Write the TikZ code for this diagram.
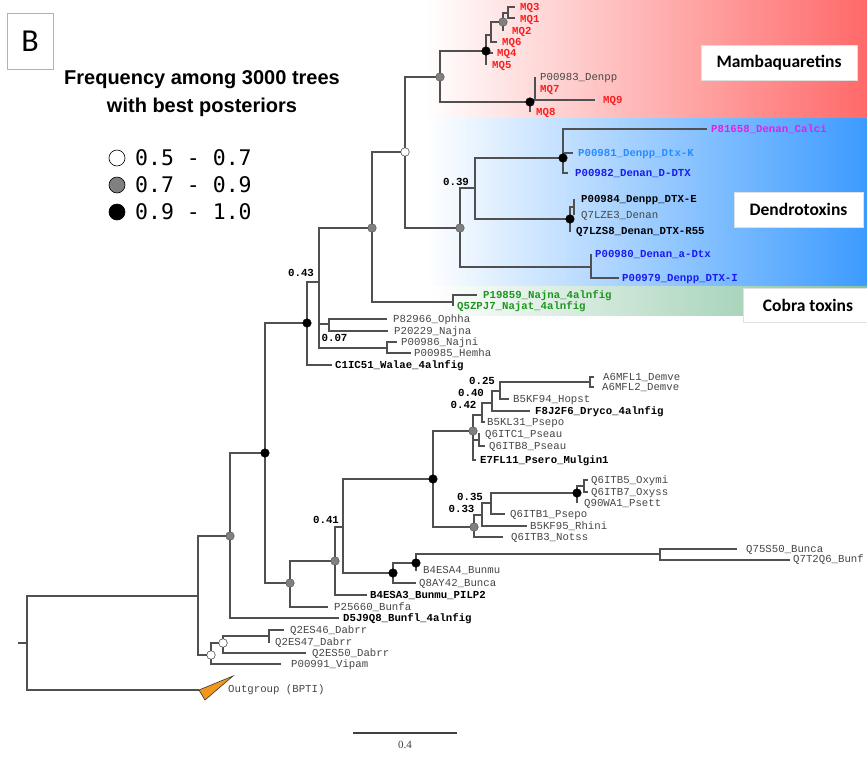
\documentclass[tikz,border=0pt]{standalone}
\usepackage{fontspec}
\setmainfont{Liberation Sans}
\newfontfamily\lmono{Liberation Mono}
\newfontfamily\dmono{DejaVu Sans Mono}
\newfontfamily\carl{Carlito}
\newfontfamily\lserif{Liberation Serif}
\definecolor{linec}{RGB}{80,80,80}
\definecolor{leafg}{RGB}{70,70,70}
\definecolor{mqred}{RGB}{250,30,30}
\definecolor{calm}{RGB}{230,30,230}
\definecolor{lblue}{RGB}{40,140,255}
\definecolor{dblue}{RGB}{25,25,240}
\definecolor{cgreen}{RGB}{30,150,30}
\definecolor{bgred}{RGB}{255,105,105}
\definecolor{bgblue}{RGB}{60,155,255}
\definecolor{bggreen}{RGB}{135,195,160}
\definecolor{ogorange}{RGB}{242,150,30}
\definecolor{dotgray}{RGB}{128,128,128}
\begin{document}
\begin{tikzpicture}[x=1pt,y=-1pt,
  br/.style={draw=linec,line width=1.3pt,line join=miter},
  lab/.style={anchor=west,inner sep=0pt,text height=7pt,text depth=0pt,font=\lmono\fontsize{10.7}{12}\selectfont,text=leafg},
  labb/.style={lab,font=\lmono\bfseries\fontsize{10.7}{12}\selectfont,text=black},
  supp/.style={inner sep=0pt,text height=7pt,text depth=0pt,font=\lmono\bfseries\fontsize{10.8}{12}\selectfont,text=black},
  bdot/.style={circle,fill=black,draw=black,line width=0.4pt,minimum size=8.6pt,inner sep=0pt},
  gdot/.style={circle,fill=dotgray,draw=black!70,line width=0.4pt,minimum size=8.6pt,inner sep=0pt},
  wdot/.style={circle,fill=white,draw=black!80,line width=0.5pt,minimum size=8.6pt,inner sep=0pt},
  grpbox/.style={fill=white,draw=black!12,line width=0.5pt,inner sep=0pt,font=\carl\bfseries\fontsize{17.5}{20}\selectfont},
  legdot/.style={circle,draw=black,line width=0.6pt,minimum size=16pt,inner sep=0pt}]
\useasboundingbox (0,0) rectangle (867,761);
\fill[white] (0,0) rectangle (867,761);
% coloured backgrounds
\shade[left color=white,right color=bgred] (425,0) rectangle (867,118);
\shade[left color=white,right color=bgblue] (425,118) rectangle (867,286);
\shade[left color=white,right color=bggreen] (430,286) rectangle (867,315);
\node[grpbox,minimum width=156pt,minimum height=35pt] (gm) at (779,62.5) {Mambaquaretins};
\node[grpbox,minimum width=129pt,minimum height=35pt] (gd) at (798.5,209.5) {Dendrotoxins};
\node[grpbox,minimum width=130pt,minimum height=34pt] (gc) at (808,305) {Cobra toxins};
% panel letter
\node[draw=black!30,line width=0.6pt,minimum width=46pt,minimum height=56pt,inner sep=0pt,font=\carl\fontsize{32}{34}\selectfont] (pb) at (30,41) {B};
% title and legend
\node[font=\bfseries\fontsize{20}{24}\selectfont] (t1) at (202,80) {Frequency among 3000 trees};
\node[font=\bfseries\fontsize{20}{24}\selectfont] (t2) at (202,107) {with best posteriors};
\node[legdot,fill=white] (lg1) at (117,158) {};
\node[legdot,fill=dotgray] (lg2) at (117,185) {};
\node[legdot,fill=black] (lg3) at (117,212) {};
\node[anchor=west,inner sep=0pt,font=\dmono\fontsize{21.5}{24}\selectfont] (lt1) at (135,158) {0.5 - 0.7};
\node[anchor=west,inner sep=0pt,font=\dmono\fontsize{21.5}{24}\selectfont] (lt2) at (135,185) {0.7 - 0.9};
\node[anchor=west,inner sep=0pt,font=\dmono\fontsize{21.5}{24}\selectfont] (lt3) at (135,212) {0.9 - 1.0};
% internal nodes
\coordinate (Rt) at (18,643);
\coordinate (R) at (27,643);
\coordinate (OG) at (199,690);
\coordinate (A) at (198,596);
\coordinate (D) at (211,655);
\coordinate (D2) at (223,643);
\coordinate (D3) at (269,636);
\coordinate (B) at (230,536);
\coordinate (C) at (265,453);
\coordinate (F) at (290,583);
\coordinate (G) at (335,561);
\coordinate (H) at (343,527);
\coordinate (J) at (393,573);
\coordinate (K) at (416,563);
\coordinate (L) at (660,554);
\coordinate (I) at (433,479);
\coordinate (M) at (473,431);
\coordinate (O42) at (482,415);
\coordinate (O40) at (492,403);
\coordinate (O25) at (500,391);
\coordinate (Q) at (590,382);
\coordinate (P) at (479,440);
\coordinate (N) at (474,527);
\coordinate (O33) at (482,515);
\coordinate (O35) at (491,503);
\coordinate (S) at (577,493);
\coordinate (T) at (584,486);
\coordinate (E) at (307,323);
\coordinate (U) at (319,282);
\coordinate (V) at (329,324);
\coordinate (W) at (387,348);
\coordinate (X) at (372,228);
\coordinate (Z) at (453,302);
\coordinate (Y) at (405,152);
\coordinate (MB) at (440,77);
\coordinate (B1) at (486,51);
\coordinate (N1) at (491,35);
\coordinate (G2) at (503,22);
\coordinate (N3) at (508,13);
\coordinate (B2) at (530,102);
\coordinate (N4) at (535,100);
\coordinate (DT) at (460,228);
\coordinate (O39) at (475,188);
\coordinate (K1) at (563,158);
\coordinate (K2) at (570,219);
\coordinate (N6) at (574,207);
\coordinate (N5) at (591,267);
% leaves
\coordinate (lMQ3) at (515,7);
\coordinate (lMQ1) at (515,18);
\coordinate (lMQ2) at (503,31);
\coordinate (lMQ6) at (497,42);
\coordinate (lMQ4) at (493,53);
\coordinate (lMQ5) at (486,65);
\coordinate (l983) at (535,77);
\coordinate (lMQ7) at (535,89);
\coordinate (lMQ9) at (595,100);
\coordinate (lMQ8) at (530,112);
\coordinate (l658) at (707,129);
\coordinate (l981) at (573,153);
\coordinate (l982) at (568,173);
\coordinate (l984) at (574,199);
\coordinate (lZE3) at (574,215);
\coordinate (lZS8) at (570,232);
\coordinate (l980) at (591,254);
\coordinate (l979) at (619,278);
\coordinate (l859) at (477,295);
\coordinate (lPJ7) at (453,306);
\coordinate (l966) at (387,319);
\coordinate (l229) at (388,331);
\coordinate (l986) at (397,342);
\coordinate (l985) at (411,353);
\coordinate (lC51) at (332,365);
\coordinate (lFL1) at (594,377);
\coordinate (lFL2) at (594,387);
\coordinate (lF94) at (509,399);
\coordinate (lJ2F) at (530,411);
\coordinate (lL31) at (485,422);
\coordinate (lTC1) at (480,434);
\coordinate (lTB8) at (485,446);
\coordinate (lE7F) at (476,460);
\coordinate (lTB5) at (588,480);
\coordinate (lTB7) at (588,492);
\coordinate (lWA1) at (577,503);
\coordinate (lTB1) at (505,514);
\coordinate (lF95) at (527,526);
\coordinate (lTB3) at (503,537);
\coordinate (lS50) at (737,549);
\coordinate (l2Q6) at (790,560);
\coordinate (lSA4) at (416,571);
\coordinate (lY42) at (416,583);
\coordinate (lSA3) at (367,595);
\coordinate (l660) at (328,607);
\coordinate (lJ9Q) at (339,618);
\coordinate (lE46) at (284,630);
\coordinate (lE47) at (270,642);
\coordinate (lE50) at (306,653);
\coordinate (l991) at (281,664);
% branches
\draw[br] (Rt) -- (R) (R) |- (A) (R) |- (OG)
  (A) |- (B) (A) |- (D)
  (D) |- (D2) (D) |- (l991)
  (D2) |- (D3) (D2) |- (lE50)
  (D3) |- (lE46) (D3) |- (lE47)
  (B) |- (C) (B) |- (lJ9Q)
  (C) |- (E) (C) |- (F)
  (F) |- (G) (F) |- (l660)
  (G) |- (H) (G) |- (lSA3)
  (H) |- (I) (H) |- (J)
  (J) |- (K) (J) |- (lY42)
  (K) |- (L) (K) |- (lSA4)
  (L) |- (lS50) (L) |- (l2Q6)
  (I) |- (M) (I) |- (N)
  (M) |- (O42) (M) |- (P) (M) |- (lE7F)
  (O42) |- (O40) (O42) |- (lL31)
  (O40) |- (O25) (O40) |- (lJ2F)
  (O25) |- (Q) (O25) |- (lF94)
  (Q) |- (lFL1) (Q) |- (lFL2)
  (P) |- (lTC1) (P) |- (lTB8)
  (N) |- (O33) (N) |- (lTB3)
  (O33) |- (O35) (O33) |- (lF95)
  (O35) |- (S) (O35) |- (lTB1)
  (S) |- (T) (S) |- (lWA1)
  (T) |- (lTB5) (T) |- (lTB7)
  (E) |- (U) (E) |- (lC51)
  (U) |- (X) (U) |- (V) (U) |- (W)
  (V) |- (l966) (V) |- (l229)
  (W) |- (l986) (W) |- (l985)
  (X) |- (Y) (X) |- (Z)
  (Z) |- (l859) (Z) |- (lPJ7)
  (Y) |- (MB) (Y) |- (DT)
  (MB) |- (B1) (MB) |- (B2)
  (B1) |- (N1) (B1) |- (lMQ4) (B1) |- (lMQ5)
  (N1) |- (G2) (N1) |- (lMQ6)
  (G2) |- (N3) (G2) |- (lMQ2)
  (N3) |- (lMQ3) (N3) |- (lMQ1)
  (B2) |- (N4) (B2) |- (lMQ8)
  (N4) |- (l983) (N4) |- (lMQ7) (N4) |- (lMQ9)
  (DT) |- (O39) (DT) |- (N5)
  (O39) |- (K1) (O39) |- (K2)
  (K1) |- (l658) (K1) |- (l981) (K1) |- (l982)
  (K2) |- (N6) (K2) |- (lZS8)
  (N6) |- (l984) (N6) |- (lZE3)
  (N5) |- (l980) (N5) |- (l979);
% outgroup triangle
\coordinate (og1) at (233,676);
\coordinate (og2) at (205,700);
\filldraw[fill=ogorange,draw=black!80,line width=0.6pt] (OG) -- (og1) -- (og2) -- cycle;
% support dots
\foreach \n in {C,E,I,J,K,S,B1,B2,K1,K2} \node[bdot] (d\n) at (\n) {};
\foreach \n in {B,F,G,M,N,X,MB,G2,DT} \node[gdot] (d\n) at (\n) {};
\foreach \n in {D,D2,Y} \node[wdot] (d\n) at (\n) {};
% support values
\node[supp] (s43) at (301,273) {0.43};
\node[supp] (s07) at (334.5,338) {0.07};
\node[supp] (s39) at (456,182) {0.39};
\node[supp] (s25) at (482,381) {0.25};
\node[supp] (s40) at (471,393) {0.40};
\node[supp] (s42) at (463.5,405) {0.42};
\node[supp] (s35) at (470,497) {0.35};
\node[supp] (s33) at (461.5,509) {0.33};
\node[supp] (s41) at (326,520) {0.41};
% leaf labels
\node[labb,text=mqred] (tMQ3) at (520,7) {MQ3};
\node[labb,text=mqred] (tMQ1) at (520,19) {MQ1};
\node[labb,text=mqred] (tMQ2) at (512,31) {MQ2};
\node[labb,text=mqred] (tMQ6) at (502,42) {MQ6};
\node[labb,text=mqred] (tMQ4) at (497,53) {MQ4};
\node[labb,text=mqred] (tMQ5) at (492,65) {MQ5};
\node[lab] (t983) at (540,77) {P00983\_Denpp};
\node[labb,text=mqred] (tMQ7) at (540,89) {MQ7};
\node[labb,text=mqred] (tMQ9) at (603,100) {MQ9};
\node[labb,text=mqred] (tMQ8) at (536,112) {MQ8};
\node[labb,text=calm] (t658) at (711,129) {P81658\_Denan\_Calci};
\node[labb,text=lblue] (t981) at (578,153) {P00981\_Denpp\_Dtx-K};
\node[labb,text=dblue] (t982) at (575,173) {P00982\_Denan\_D-DTX};
\node[labb] (t984) at (581,199) {P00984\_Denpp\_DTX-E};
\node[lab] (tZE3) at (581,215) {Q7LZE3\_Denan};
\node[labb] (tZS8) at (576,231) {Q7LZS8\_Denan\_DTX-R55};
\node[labb,text=dblue] (t980) at (595,254) {P00980\_Denan\_a-Dtx};
\node[labb,text=dblue] (t979) at (622,278) {P00979\_Denpp\_DTX-I};
\node[labb,text=cgreen] (t859) at (483,295) {P19859\_Najna\_4alnfig};
\node[labb,text=cgreen] (tPJ7) at (457,306) {Q5ZPJ7\_Najat\_4alnfig};
\node[lab] (t966) at (393,319) {P82966\_Ophha};
\node[lab] (t229) at (394,331) {P20229\_Najna};
\node[lab] (t986) at (401,342) {P00986\_Najni};
\node[lab] (t985) at (414,353) {P00985\_Hemha};
\node[labb] (tC51) at (335,365) {C1IC51\_Walae\_4alnfig};
\node[lab] (tFL1) at (603,377) {A6MFL1\_Demve};
\node[lab] (tFL2) at (602,387) {A6MFL2\_Demve};
\node[lab] (tF94) at (513,399) {B5KF94\_Hopst};
\node[labb] (tJ2F) at (535,411) {F8J2F6\_Dryco\_4alnfig};
\node[lab] (tL31) at (487,422) {B5KL31\_Psepo};
\node[lab] (tTC1) at (485,434) {Q6ITC1\_Pseau};
\node[lab] (tTB8) at (489,446) {Q6ITB8\_Pseau};
\node[labb] (tE7F) at (480,460) {E7FL11\_Psero\_Mulgin1};
\node[lab] (tTB5) at (591,480) {Q6ITB5\_Oxymi};
\node[lab] (tTB7) at (591,492) {Q6ITB7\_Oxyss};
\node[lab] (tWA1) at (584,503) {Q90WA1\_Psett};
\node[lab] (tTB1) at (510,514) {Q6ITB1\_Psepo};
\node[lab] (tF95) at (530,526) {B5KF95\_Rhini};
\node[lab] (tTB3) at (511,537) {Q6ITB3\_Notss};
\node[lab] (tS50) at (746,549) {Q75S50\_Bunca};
\node[lab] (t2Q6) at (793,559) {Q7T2Q6\_Bunf};
\node[lab] (tSA4) at (423,570) {B4ESA4\_Bunmu};
\node[lab] (tY42) at (419,583) {Q8AY42\_Bunca};
\node[labb] (tSA3) at (370,595) {B4ESA3\_Bunmu\_PILP2};
\node[lab] (t660) at (334,607) {P25660\_Bunfa};
\node[labb] (tJ9Q) at (343,618) {D5J9Q8\_Bunfl\_4alnfig};
\node[lab] (tE46) at (290,630) {Q2ES46\_Dabrr};
\node[lab] (tE47) at (275,642) {Q2ES47\_Dabrr};
\node[lab] (tE50) at (312,653) {Q2ES50\_Dabrr};
\node[lab] (t991) at (291,664) {P00991\_Vipam};
\node[lab] (tOG) at (228,689) {Outgroup (BPTI)};
% scale bar
\coordinate (sb1) at (353,733);
\coordinate (sb2) at (457,733);
\draw[draw=black!75,line width=1.2pt] (sb1) -- (sb2);
\node[inner sep=0pt,font=\lserif\fontsize{11}{12}\selectfont,text=black!75] (sbl) at (405,745) {0.4};
\end{tikzpicture}
\end{document}
